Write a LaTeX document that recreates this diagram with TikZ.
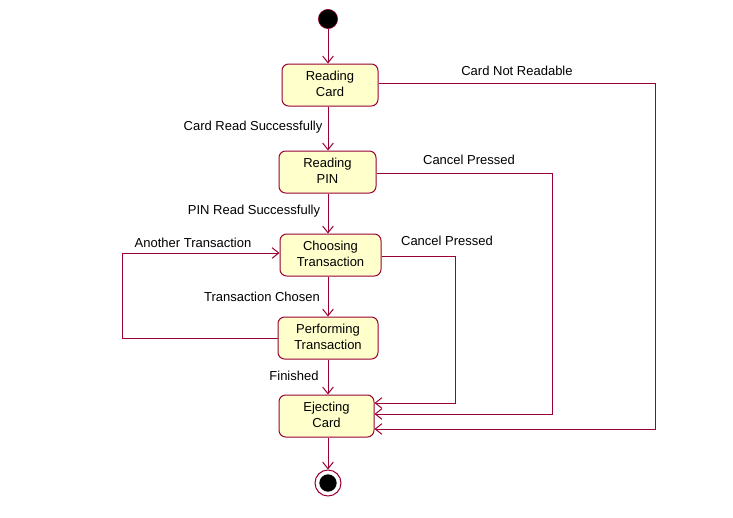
\documentclass[tikz,border=0pt]{standalone}
\usepackage{fontspec}
\setmainfont{Liberation Sans}
\usetikzlibrary{arrows.meta}
\definecolor{umlline}{HTML}{990033}
\definecolor{umlfill}{HTML}{FFFFCC}
\newcommand{\twoline}[2]{\raisebox{2.5pt}{\begin{tabular}{@{}c@{}}#1\\#2\end{tabular}}}
\begin{document}
\begin{tikzpicture}[x=0.75pt,y=-0.75pt,
  state/.style={draw=umlline,line width=0.75pt,fill=umlfill,rounded corners=5pt,minimum width=72pt,minimum height=31.5pt,align=center,font=\fontsize{9.75}{12}\selectfont,inner sep=0pt},
  conn/.style={draw=umlline,line width=0.75pt,-{Straight Barb[length=5pt,width=8pt]}},
  lbl/.style={font=\fontsize{9.75}{12}\selectfont,inner sep=0pt}]
\useasboundingbox (0,0) rectangle (733,518);
\node[circle,fill=black,draw=umlline,minimum size=14.5pt,inner sep=0pt] (start) at (328,19) {};
\node[state,minimum width=72pt] (rc) at (330,85) {\twoline{Reading}{Card}};
\node[state,minimum width=72.75pt] (rp) at (327.5,172) {\twoline{Reading}{PIN}};
\node[state,minimum width=75.75pt] (ct) at (330.5,255) {\twoline{Choosing}{Transaction}};
\node[state,minimum width=75pt] (pt) at (328,338) {\twoline{Performing}{Transaction}};
\node[state,minimum width=71.25pt] (ec) at (326.5,416) {\twoline{Ejecting}{Card}};
\node[circle,draw=umlline,line width=0.75pt,minimum size=19.5pt,inner sep=0pt] (end) at (328,483) {};
\node[circle,fill=black,minimum size=13pt,inner sep=0pt] (endin) at (end) {};

\draw[conn] (start) -- (start|-rc.north);
\draw[conn] (rc.south-|328,0) -- (rp.north-|328,0);
\draw[conn] (rp.south-|328,0) -- (ct.north-|328,0);
\draw[conn] (ct.south-|328,0) -- (pt.north-|328,0);
\draw[conn] (pt.south-|328,0) -- (ec.north-|328,0);
\draw[conn] (ec.south-|328,0) -- (end.north);

\coordinate (a1) at (655,83);
\coordinate (a2) at (655,429);
\draw[conn] (rc.east|-a1) -- (a1) -- (a2) -- (ec.east|-a2);
\coordinate (b1) at (552,173);
\coordinate (b2) at (552,414);
\draw[conn] (rp.east|-b1) -- (b1) -- (b2) -- (ec.east|-b2);
\coordinate (c1) at (455,256);
\coordinate (c2) at (455,403);
\draw[conn] (ct.east|-c1) -- (c1) -- (c2) -- (ec.east|-c2);
\coordinate (d1) at (122,338);
\coordinate (d2) at (122,253);
\draw[conn] (pt.west) -- (d1) -- (d2) -- (ct.west|-d2);

\node[lbl] (l1) at (517,71) {Card Not Readable};
\node[lbl] (l2) at (469,160) {Cancel Pressed};
\node[lbl] (l3) at (447,241) {Cancel Pressed};
\node[lbl] (l4) at (193,243) {Another Transaction};
\node[lbl] (l5) at (253,127) {Card Read Successfully};
\node[lbl] (l6) at (254,211) {PIN Read Successfully};
\node[lbl] (l7) at (262,297) {Transaction Chosen};
\node[lbl] (l8) at (294,376) {Finished};
\end{tikzpicture}
\end{document}
